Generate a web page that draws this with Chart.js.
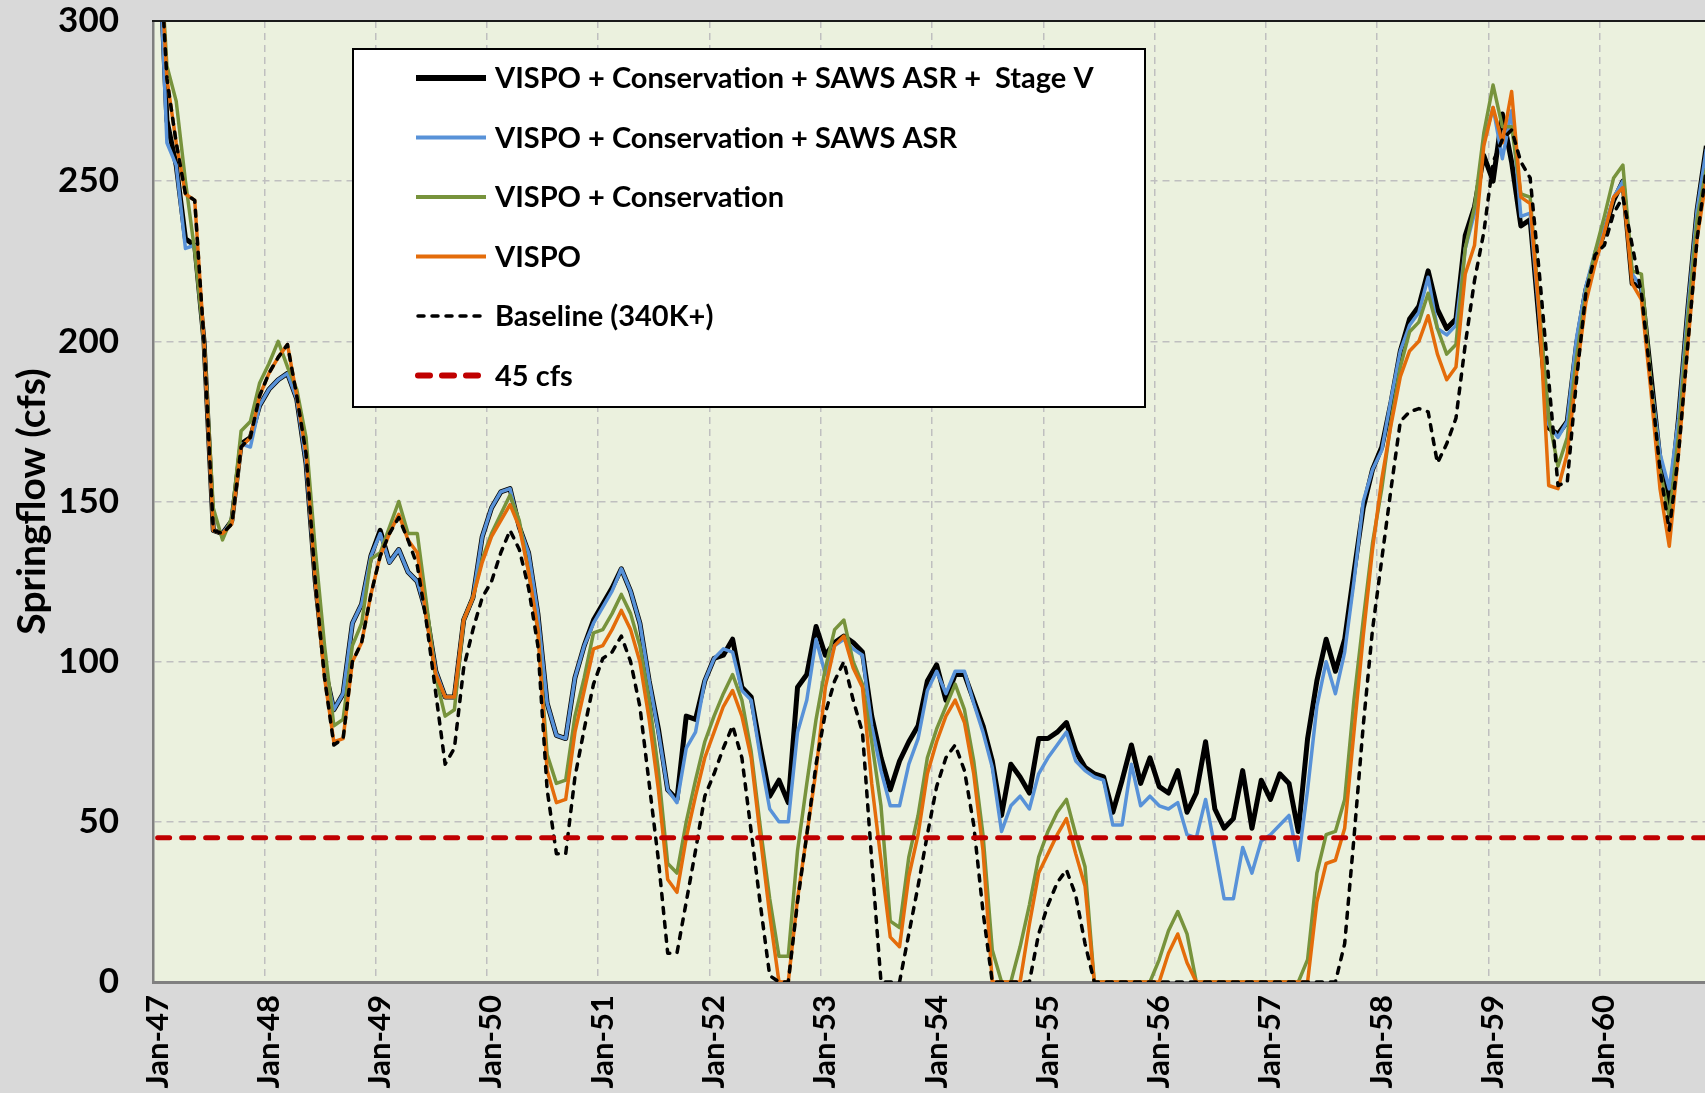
<!DOCTYPE html>
<html>
<head>
<meta charset="utf-8">
<title>Springflow</title>
<script src="https://cdn.jsdelivr.net/npm/chart.js@4.4.1/dist/chart.umd.min.js"></script>
<style>
  html, body { margin: 0; padding: 0; background: #d9d9d9; overflow: hidden; }
  #wrap { width: 1711px; height: 1093px; }
</style>
</head>
<body>
<div id="wrap"><canvas id="springflow" width="1711" height="1093"></canvas></div>
<script>
const monthNames = ['Jan', 'Feb', 'Mar', 'Apr', 'May', 'Jun', 'Jul', 'Aug', 'Sep', 'Oct', 'Nov', 'Dec'];
const yearLabels = ['47', '48', '49', '50', '51', '52', '53', '54', '55', '56', '57', '58', '59', '60'];

// monthly springflow (cfs), Jan-47 .. Dec-60
const stageV = [
  335, 269, 255, 232, 230, 200, 141, 140, 144, 168, 170, 180,
  185, 188, 190, 182, 162, 125, 98, 85, 90, 112, 118, 133,
  141, 131, 135, 128, 125, 115, 97, 89, 89, 113, 120, 139,
  148, 153, 154, 142, 134, 115, 87, 77, 76, 95, 105, 113,
  118, 123, 129, 122, 112, 94, 79, 60, 57, 83, 82, 94,
  101, 102, 107, 92, 89, 73, 58, 63, 56, 92, 96, 111,
  102, 106, 108, 106, 103, 83, 70, 60, 69, 75, 80, 94,
  99, 88, 96, 96, 88, 80, 69, 52, 68, 64, 59, 76,
  76, 78, 81, 72, 67, 65, 64, 53, 63, 74, 62, 70,
  61, 59, 66, 53, 59, 75, 54, 48, 51, 66, 48, 63,
  57, 65, 62, 47, 76, 94, 107, 97, 107, 128, 148, 160,
  167, 181, 197, 207, 211, 222, 210, 204, 207, 233, 242, 258,
  250, 271, 256, 236, 238, 205, 173, 171, 175, 199, 216, 226,
  234, 244, 250, 218, 217, 190, 163, 148, 176, 210, 241, 261
];
const sawsAsr = [
  335, 262, 255, 229, 230, 200, 141, 140, 144, 168, 167, 180,
  185, 188, 190, 182, 162, 125, 98, 85, 90, 112, 118, 133,
  140, 131, 135, 128, 125, 115, 97, 89, 89, 113, 120, 139,
  148, 153, 154, 142, 134, 115, 87, 77, 76, 95, 105, 112,
  117, 122, 129, 122, 112, 94, 78, 60, 56, 73, 78, 94,
  101, 104, 103, 91, 88, 70, 54, 50, 50, 78, 88, 107,
  96, 105, 107, 104, 102, 80, 66, 55, 55, 68, 76, 91,
  97, 90, 97, 97, 87, 78, 67, 47, 55, 58, 54, 65,
  70, 74, 78, 69, 66, 64, 63, 49, 49, 68, 55, 58,
  55, 54, 56, 46, 45, 57, 42, 26, 26, 42, 34, 44,
  46, 49, 52, 38, 60, 86, 100, 90, 103, 125, 150, 160,
  166, 182, 197, 205, 209, 220, 204, 202, 205, 229, 240, 262,
  273, 257, 272, 239, 240, 207, 174, 170, 175, 201, 217, 228,
  235, 245, 250, 221, 217, 188, 165, 154, 176, 210, 241, 260
];
const conservation = [
  335, 286, 275, 250, 228, 200, 148, 138, 145, 172, 175, 187,
  193, 200, 192, 185, 170, 135, 105, 80, 82, 105, 112, 132,
  134, 142, 150, 140, 140, 118, 95, 83, 85, 113, 120, 132,
  140, 146, 152, 144, 128, 110, 71, 62, 63, 83, 95, 109,
  110, 115, 121, 115, 105, 88, 66, 37, 34, 50, 63, 75,
  83, 90, 96, 88, 72, 48, 26, 8, 8, 41, 62, 82,
  98, 110, 113, 100, 93, 75, 55, 19, 17, 39, 52, 70,
  79, 86, 93, 85, 69, 46, 10, 0, 0, 11, 24, 39,
  47, 53, 57, 46, 36, 0, 0, 0, 0, 0, 0, 0,
  7, 16, 22, 15, 0, 0, 0, 0, 0, 0, 0, 0,
  0, 0, 0, 0, 7, 34, 46, 47, 57, 88, 113, 137,
  154, 175, 192, 203, 206, 215, 204, 196, 199, 229, 242, 265,
  280, 267, 267, 246, 245, 210, 176, 161, 170, 195, 215, 228,
  239, 251, 255, 222, 221, 188, 160, 145, 171, 207, 238, 254
];
const vispo = [
  335, 282, 262, 246, 244, 200, 141, 140, 143, 167, 170, 183,
  190, 195, 199, 183, 165, 125, 95, 75, 76, 100, 106, 121,
  133, 140, 146, 138, 134, 113, 96, 89, 89, 113, 120, 131,
  139, 144, 149, 142, 128, 110, 66, 56, 57, 78, 91, 104,
  105, 110, 116, 110, 100, 82, 60, 32, 28, 45, 58, 70,
  78, 86, 91, 83, 70, 45, 21, 0, 0, 26, 46, 66,
  92, 105, 108, 98, 92, 62, 38, 14, 11, 33, 46, 65,
  75, 83, 88, 81, 65, 41, 0, 0, 0, 0, 18, 34,
  40, 46, 51, 40, 30, 0, 0, 0, 0, 0, 0, 0,
  0, 9, 15, 6, 0, 0, 0, 0, 0, 0, 0, 0,
  0, 0, 0, 0, 0, 25, 37, 38, 48, 78, 108, 135,
  157, 174, 189, 197, 200, 208, 196, 188, 192, 221, 230, 261,
  273, 262, 278, 245, 243, 208, 155, 154, 165, 190, 212, 224,
  234, 245, 248, 218, 213, 185, 154, 136, 165, 199, 232, 251
];
const baseline = [
  335, 282, 262, 246, 244, 200, 141, 140, 143, 167, 170, 183,
  190, 195, 199, 183, 165, 125, 95, 74, 76, 100, 106, 121,
  133, 140, 145, 138, 130, 112, 90, 68, 73, 98, 110, 120,
  125, 134, 141, 135, 123, 105, 60, 40, 40, 64, 79, 93,
  101, 103, 108, 100, 86, 62, 38, 9, 9, 25, 41, 58,
  65, 73, 80, 70, 47, 24, 2, 0, 0, 25, 46, 68,
  84, 94, 100, 88, 78, 38, 0, 0, 0, 15, 30, 46,
  61, 70, 74, 66, 49, 22, 0, 0, 0, 0, 0, 15,
  24, 31, 35, 27, 12, 0, 0, 0, 0, 0, 0, 0,
  0, 0, 0, 0, 0, 0, 0, 0, 0, 0, 0, 0,
  0, 0, 0, 0, 0, 0, 0, 0, 12, 45, 80, 110,
  132, 154, 175, 178, 179, 178, 162, 168, 176, 199, 219, 234,
  256, 263, 266, 256, 251, 221, 188, 155, 156, 188, 215, 227,
  230, 240, 245, 230, 215, 188, 160, 141, 165, 199, 232, 254
];
const limitCfs = 45;

const months = [];
yearLabels.forEach(y => monthNames.forEach(m => months.push(m + '-' + y)));

const FONT = 'Lato, "Open Sans", sans-serif';
const CLEAR = 'rgba(0,0,0,0)';

// plot background + top border
const plotFrame = {
  id: 'plotFrame',
  beforeDraw(chart) {
    const { ctx, chartArea: a } = chart;
    ctx.save();
    ctx.fillStyle = '#d9d9d9';
    ctx.fillRect(0, 0, chart.width, chart.height);
    ctx.fillStyle = '#ebf1de';
    ctx.fillRect(a.left, a.top, a.right - a.left, a.bottom - a.top);
    ctx.restore();
  },
  afterDraw(chart) {
    const { ctx, chartArea: a } = chart;
    ctx.save();
    ctx.strokeStyle = '#1a1a1a';
    ctx.lineWidth = 2;
    ctx.beginPath();
    ctx.moveTo(a.left - 1, a.top);
    ctx.lineTo(a.right, a.top);
    ctx.stroke();
    ctx.restore();
  }
};

// boxed legend inside the plot
const boxLegend = {
  id: 'boxLegend',
  afterDraw(chart) {
    const ctx = chart.ctx;
    const left = 353, top = 49, width = 792, height = 358;
    ctx.save();
    ctx.fillStyle = '#ffffff';
    ctx.fillRect(left, top, width, height);
    ctx.strokeStyle = '#000000';
    ctx.lineWidth = 2;
    ctx.strokeRect(left, top, width, height);
    ctx.font = 'bold 29px ' + FONT;
    ctx.textBaseline = 'middle';
    ctx.textAlign = 'left';
    chart.data.datasets.forEach((ds, k) => {
      const y = 78 + k * 59.5;
      ctx.save();
      ctx.strokeStyle = ds.borderColor;
      ctx.lineWidth = ds.legendWidth || ds.borderWidth;
      ctx.lineCap = ds.borderCapStyle || 'butt';
      ctx.setLineDash(ds.borderDash || []);
      ctx.beginPath();
      ctx.moveTo(ds.borderDash ? 418 : 416, y);
      ctx.lineTo(486, y);
      ctx.stroke();
      ctx.restore();
      ctx.fillStyle = '#000000';
      ctx.fillText(ds.label, 495, y + 1);
    });
    ctx.restore();
  }
};

function lineSet(label, data, color, width, order, extra) {
  return Object.assign({
    label: label,
    data: data,
    borderColor: color,
    backgroundColor: color,
    borderWidth: width,
    borderJoinStyle: 'round',
    pointRadius: 0,
    pointHoverRadius: 0,
    tension: 0,
    fill: false,
    order: order
  }, extra || {});
}

new Chart(document.getElementById('springflow'), {
  type: 'line',
  data: {
    labels: months,
    datasets: [
      lineSet('VISPO + Conservation + SAWS ASR +  Stage V', stageV, '#000000', 5, 5, { legendWidth: 6 }),
      lineSet('VISPO + Conservation + SAWS ASR', sawsAsr, '#5892d8', 3.5, 4, { legendWidth: 4 }),
      lineSet('VISPO + Conservation', conservation, '#77933c', 3.5, 3, { legendWidth: 4 }),
      lineSet('VISPO', vispo, '#e46c0a', 3.5, 2, { legendWidth: 4 }),
      lineSet('Baseline (340K+)', baseline, '#000000', 3.5, 1, { borderDash: [6, 8], borderCapStyle: 'round' }),
      lineSet('45 cfs', months.map(() => limitCfs), '#c00000', 5, 0, { borderDash: [12, 12], borderCapStyle: 'round', legendWidth: 6 })
    ]
  },
  options: {
    responsive: false,
    animation: false,
    layout: { padding: { top: 21, left: 0, right: 0, bottom: 0 } },
    plugins: {
      legend: { display: false },
      tooltip: { enabled: false }
    },
    scales: {
      x: {
        type: 'category',
        offset: true,
        afterFit(scale) {
          scale.height = 111;
          scale.paddingLeft = 0;
          scale.paddingRight = 0;
        },
        grid: {
          offset: true,
          drawTicks: true,
          tickLength: 13,
          tickColor: CLEAR,
          lineWidth: 1.5,
          color: ctx => (ctx.index > 0 && ctx.index % 12 === 0) ? '#bfbfbf' : CLEAR
        },
        border: { display: true, color: '#808080', width: 3, dash: [7, 5] },
        ticks: {
          autoSkip: false,
          minRotation: 90,
          maxRotation: 90,
          padding: 0,
          color: '#000000',
          font: { family: FONT, size: 31, weight: 'bold' },
          callback: (val, idx) => (idx % 12 === 0 ? months[idx] : '')
        }
      },
      y: {
        min: 0,
        max: 300,
        afterFit(scale) { scale.width = 153; },
        grid: {
          drawTicks: true,
          tickLength: 34,
          tickColor: CLEAR,
          lineWidth: 1.5,
          color: ctx => (ctx.tick && ctx.tick.value > 0 && ctx.tick.value < 300) ? '#bfbfbf' : CLEAR
        },
        border: { display: true, color: '#808080', width: 2.5, dash: [7, 5] },
        ticks: {
          stepSize: 50,
          padding: 0,
          color: '#000000',
          font: { family: FONT, size: 35, weight: 'bold' }
        },
        title: {
          display: true,
          text: 'Springflow (cfs)',
          color: '#000000',
          padding: { top: 9, bottom: 0 },
          font: { family: FONT, size: 39, weight: 'bold' }
        }
      }
    }
  },
  plugins: [plotFrame, boxLegend]
});
</script>
</body>
</html>
